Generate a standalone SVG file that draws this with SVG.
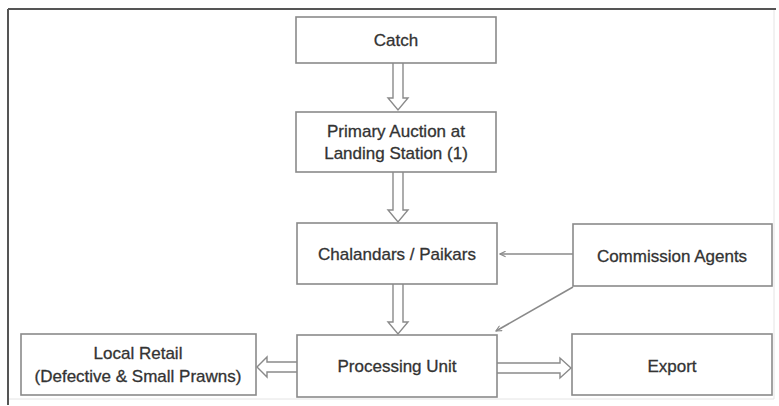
<svg xmlns="http://www.w3.org/2000/svg" width="779" height="406" viewBox="0 0 779 406">
<defs>
<style>
.box{fill:#fff;stroke:#8a8a8a;stroke-width:1.6}
.t{font-family:"Liberation Sans",Arial,sans-serif;font-size:17px;fill:#333;text-anchor:middle;stroke:#333;stroke-width:0.3}
.blk{fill:#fff;stroke:#8a8a8a;stroke-width:1.4;stroke-linejoin:miter}
.thin{fill:none;stroke:#8a8a8a;stroke-width:1.6}
</style>
<marker id="ah" viewBox="0 0 10 10" refX="9" refY="5" markerWidth="7" markerHeight="7" markerUnits="userSpaceOnUse" orient="auto">
<path d="M1,1 L9,5 L1,9" fill="none" stroke="#8a8a8a" stroke-width="1.6"/>
</marker>
</defs>
<rect x="0" y="0" width="779" height="406" fill="#fff"/>
<g id="frame">
<line x1="8" y1="9" x2="776" y2="9" stroke="#555" stroke-width="2"/>
<line x1="8" y1="9" x2="8" y2="405" stroke="#555" stroke-width="2"/>
<line x1="774" y1="10" x2="774" y2="399" stroke="#e4e4e4" stroke-width="1"/>
<line x1="9" y1="399" x2="774" y2="399" stroke="#e4e4e4" stroke-width="1"/>
</g>
<g id="connectors">
<path class="blk" d="M393,63 L393,98 L388,98 L398,110 L408,98 L403,98 L403,63"/>
<path class="blk" d="M393,172 L393,210 L388,210 L398,222 L408,210 L403,210 L403,172"/>
<path class="blk" d="M393,284 L393,322 L388,322 L398,334 L408,322 L403,322 L403,284"/>
<path class="blk" d="M497,363 L560,363 L560,358 L571,368 L560,378 L560,373 L497,373"/>
<path class="blk" d="M297,362 L267,362 L267,357 L257,367 L267,377 L267,372 L297,372"/>
<line class="thin" x1="573" y1="254" x2="500" y2="254" marker-end="url(#ah)"/>
<line class="thin" x1="573" y1="287" x2="496" y2="331" marker-end="url(#ah)"/>
</g>
<g id="catch">
<rect class="box" x="296" y="17" width="200" height="46"/>
<text class="t" x="396" y="46">Catch</text>
</g>
<g id="primary-auction">
<rect class="box" x="296" y="112" width="200" height="60"/>
<text class="t" x="396" y="137">Primary Auction at</text>
<text class="t" x="396" y="159">Landing Station (1)</text>
</g>
<g id="chalandars">
<rect class="box" x="297" y="223" width="200" height="61"/>
<text class="t" x="397" y="260">Chalandars / Paikars</text>
</g>
<g id="commission-agents">
<rect class="box" x="573" y="224" width="199" height="62"/>
<text class="t" x="672" y="262">Commission Agents</text>
</g>
<g id="processing-unit">
<rect class="box" x="297" y="335" width="200" height="62"/>
<text class="t" x="397" y="372">Processing Unit</text>
</g>
<g id="local-retail">
<rect class="box" x="21" y="334" width="235" height="61"/>
<text class="t" x="138" y="359">Local Retail</text>
<text class="t" x="138" y="382">(Defective &amp; Small Prawns)</text>
</g>
<g id="export">
<rect class="box" x="572" y="334" width="200" height="61"/>
<text class="t" x="672" y="372">Export</text>
</g>
</svg>
